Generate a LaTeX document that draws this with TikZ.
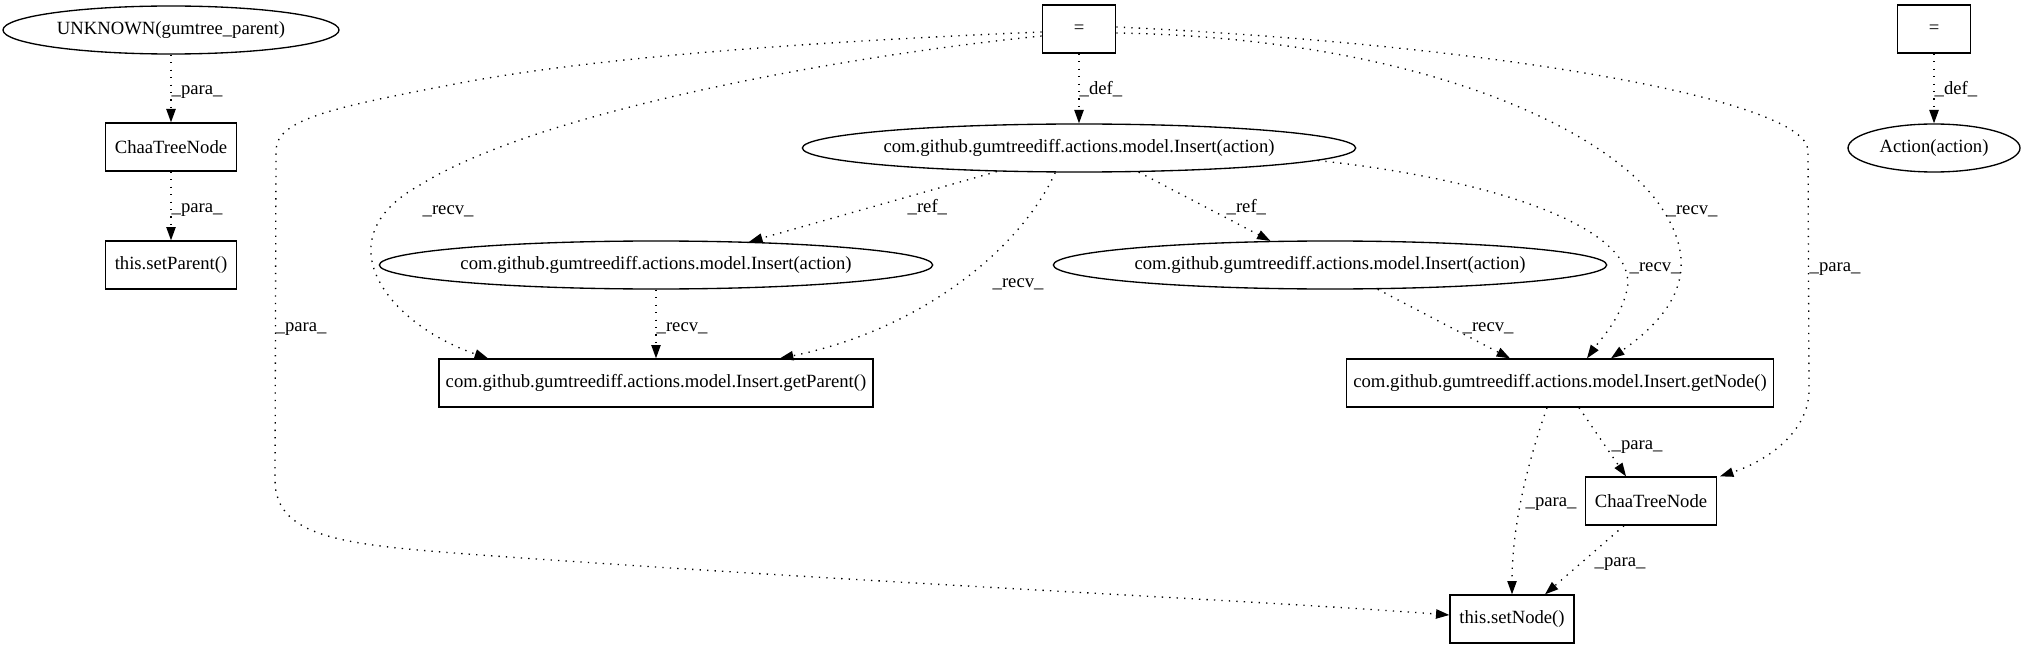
\documentclass[tikz,border=0pt]{standalone}
\usepackage{fontspec}
\setmainfont{Liberation Serif}
\usetikzlibrary{arrows.meta,calc,shapes.geometric}
\begin{document}
\begin{tikzpicture}[x=0.75pt,y=-0.75pt,
  every node/.style={font=\fontsize{14pt}{16pt}\selectfont},
  box/.style={draw,line width=1pt,rectangle,minimum height=36pt,inner sep=0pt},
  ell/.style={draw,line width=1pt,ellipse,minimum height=36pt,inner sep=0pt},
  conn/.style={line width=1pt,dash pattern=on 1pt off 4.6pt,-{Triangle[length=10pt,width=7pt]}},
  lab/.style={anchor=west,inner sep=0pt,text height=10pt,text depth=3pt}
]
\useasboundingbox (0,0) rectangle (2026,649);
% nodes
\node[ell,minimum width=252pt] (unk) at (171,30) {UNKNOWN(gumtree\_parent)};
\node[box,minimum width=98pt] (chaa1) at (171,147) {ChaaTreeNode};
\node[box,minimum width=98pt] (setParent) at (171,265) {this.setParent()};
\node[box,minimum width=55pt] (eq1) at (1079,29) {=};
\node[ell,minimum width=415pt] (ins0) at (1079,148) {com.github.gumtreediff.actions.model.Insert(action)};
\node[ell,minimum width=415pt] (ins1) at (656,265) {com.github.gumtreediff.actions.model.Insert(action)};
\node[ell,minimum width=415pt] (ins2) at (1330,265) {com.github.gumtreediff.actions.model.Insert(action)};
\node[box,minimum width=325.5pt] (getParent) at (656,383) {com.github.gumtreediff.actions.model.Insert.getParent()};
\node[box,minimum width=320pt] (getNode) at (1560,383) {com.github.gumtreediff.actions.model.Insert.getNode()};
\node[box,minimum width=98pt] (chaa2) at (1651,501) {ChaaTreeNode};
\node[box,minimum width=93pt] (setNode) at (1512,619) {this.setNode()};
\node[box,minimum width=55pt] (eq2) at (1934,29) {=};
\node[ell,minimum width=129pt] (action) at (1934,148) {Action(action)};
% edges
\draw[conn] (unk) -- (chaa1) node[lab] at (171,90) {\_para\_};
\draw[conn] (chaa1) -- (setParent) node[lab] at (171,208) {\_para\_};
\draw[conn] (eq1) -- (ins0) node[lab] at (1079,90) {\_def\_};
\draw[conn] (eq2) -- (action) node[lab] at (1934,90) {\_def\_};
\draw[conn] (ins0.196) -- (ins1.14) node[lab] at (907,208) {\_ref\_};
\draw[conn] (ins0.-22) -- (ins2.158) node[lab] at (1226,208) {\_ref\_};
\draw[conn] (ins1) -- (getParent) node[lab] at (656,327) {\_recv\_};
\draw[conn] (ins0.226) .. controls (1020,250) and (920,330) .. ($(getParent.north)+(124,0)$)
  node[lab] at (992,283) {\_recv\_};
\draw[conn] ($(eq1.west)+(0,7)$) .. controls (850,55) and (540,110) .. (420,185)
  .. controls (320,240) and (390,325) .. ($(getParent.north)+(-168,0)$)
  node[lab] at (422,210) {\_recv\_};
\draw[conn] ($(eq1.west)+(0,3)$) .. controls (850,40) and (600,55) .. (450,85)
  .. controls (330,108) and (277,120) .. (276,150) -- (275,480)
  .. controls (275,540) and (350,545) .. (480,555)
  .. controls (900,585) and (1250,600) .. ($(setNode.west)+(0,-4)$)
  node[lab] at (275,327) {\_para\_};
\draw[conn] ($(eq1.east)+(0,4)$) .. controls (1420,38) and (1610,130) .. (1661,207)
  .. controls (1700,265) and (1680,310) .. ($(getNode.north)+(51,0)$)
  node[lab] at (1666,210) {\_recv\_};
\draw[conn] ($(eq1.east)+(0,-2)$) .. controls (1500,45) and (1805,100) .. (1808,150)
  -- (1809,390) .. controls (1809,430) and (1770,460) .. ($(chaa2.north east)+(3,0)$)
  node[lab] at (1809,267) {\_para\_};
\draw[conn] (ins0.-3) .. controls (1500,180) and (1640,230) .. (1627,290)
  .. controls (1620,320) and (1600,340) .. ($(getNode.north)+(27,0)$)
  node[lab] at (1629,267) {\_recv\_};
\draw[conn] (ins2.-27) -- ($(getNode.north)+(-50,0)$) node[lab] at (1462,327) {\_recv\_};
\draw[conn] ($(getNode.south)+(19,0)$) -- ($(chaa2.north)+(-25,0)$) node[lab] at (1611,445) {\_para\_};
\draw[conn] ($(getNode.south)+(-13,0)$) .. controls (1525,470) and (1512,530) .. (setNode.north)
  node[lab] at (1525,502) {\_para\_};
\draw[conn] ($(chaa2.south)+(-27,0)$) -- ($(setNode.north)+(33,0)$) node[lab] at (1594,562) {\_para\_};
\end{tikzpicture}
\end{document}
